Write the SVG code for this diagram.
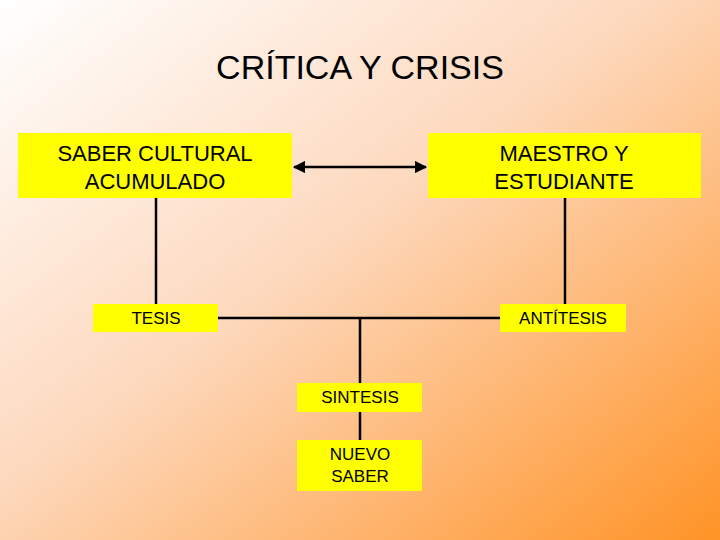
<svg xmlns="http://www.w3.org/2000/svg" width="720" height="540" viewBox="0 0 720 540">
<defs>
<linearGradient id="bg" x1="0" y1="0" x2="1" y2="1">
<stop offset="0" stop-color="#FFFFFF"/>
<stop offset="0.45" stop-color="#FDD9BE"/>
<stop offset="1" stop-color="#FF9326"/>
</linearGradient>
<marker id="ah" viewBox="0 0 10 10" refX="9" refY="5" markerWidth="5" markerHeight="5" orient="auto-start-reverse">
<path d="M0,0 L10,5 L0,10 z" fill="#000"/>
</marker>
<style>
.box{fill:#FFFF00}
.t{font-family:"Liberation Sans",Arial,sans-serif;fill:#000;text-anchor:middle}
.big{font-size:22px}
.sm{font-size:17px}
.ln{stroke:#000;stroke-width:2.5;fill:none}
</style>
</defs>
<rect width="720" height="540" fill="url(#bg)"/>
<text class="t" x="360" y="79" font-size="34">CRÍTICA Y CRISIS</text>
<g id="connectors">
<line class="ln" x1="294" y1="167" x2="426" y2="167" marker-start="url(#ah)" marker-end="url(#ah)"/>
<line class="ln" x1="156" y1="198" x2="156" y2="304"/>
<line class="ln" x1="565" y1="198" x2="565" y2="304"/>
<line class="ln" x1="218" y1="318" x2="500" y2="318"/>
<line class="ln" x1="360" y1="318" x2="360" y2="383"/>
<line class="ln" x1="360" y1="412" x2="360" y2="440"/>
</g>
<g id="saber"><rect class="box" x="18" y="133" width="274" height="65"/>
<text class="t big" x="155" y="161">SABER CULTURAL</text><text class="t big" x="155" y="189">ACUMULADO</text></g>
<g id="maestro"><rect class="box" x="428" y="133" width="273" height="65"/>
<text class="t big" x="564" y="161">MAESTRO Y</text><text class="t big" x="564" y="189">ESTUDIANTE</text></g>
<g id="tesis"><rect class="box" x="93" y="304" width="125" height="28"/>
<text class="t sm" x="156" y="324">TESIS</text></g>
<g id="antitesis"><rect class="box" x="500" y="304" width="126" height="28"/>
<text class="t sm" x="563" y="324">ANTÍTESIS</text></g>
<g id="sintesis"><rect class="box" x="297" y="383" width="125" height="29"/>
<text class="t sm" x="360" y="403">SINTESIS</text></g>
<g id="nuevo"><rect class="box" x="297" y="440" width="125" height="51"/>
<text class="t sm" x="360" y="460">NUEVO</text><text class="t sm" x="360" y="482">SABER</text></g>
</svg>
